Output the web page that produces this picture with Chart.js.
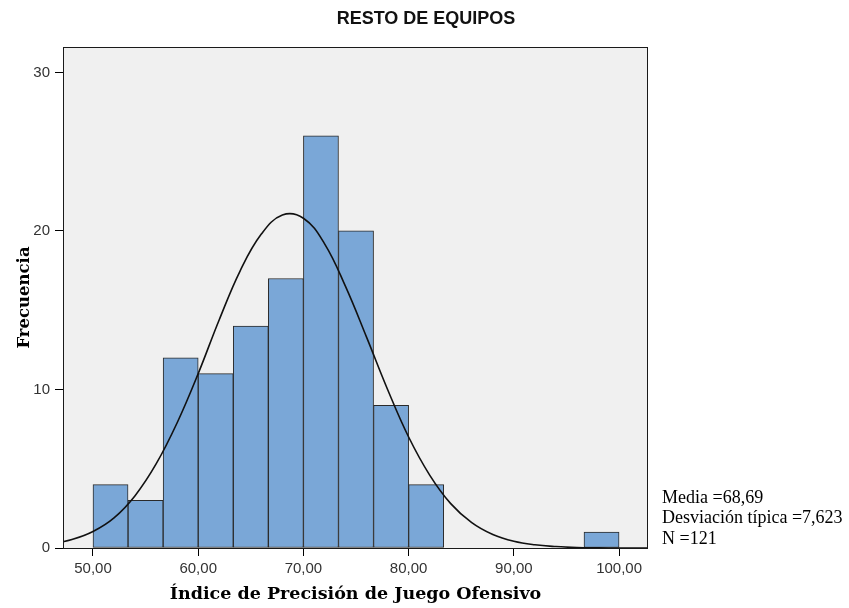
<!DOCTYPE html>
<html>
<head>
<meta charset="utf-8">
<script src="https://cdn.jsdelivr.net/npm/chart.js@4.4.1/dist/chart.umd.min.js"></script>
<style>
  html, body { margin: 0; padding: 0; background: #fff; }
  #wrap { width: 849px; height: 608px; }
</style>
</head>
<body>
<div id="wrap"><canvas id="hist"></canvas></div>
<script>
// histogram bins (left edge) and counts
const binWidth = 10 / 3;
const binStarts = [50, 53.333, 56.667, 60, 63.333, 66.667, 70, 73.333, 76.667, 80, 96.667];
const counts = [4, 3, 12, 11, 14, 17, 26, 20, 9, 4, 1];

// fitted normal curve
const curveX = [46, 48, 50, 52, 54, 56, 58, 60, 62, 64, 66, 68, 70, 72, 74, 76, 78, 80, 82, 84, 86, 88, 90, 92, 94, 96, 98, 100, 102, 104];
const curveY = [0.25, 0.53, 1.04, 1.9, 3.3, 5.3, 7.9, 11.0, 14.4, 17.5, 19.8, 21.0, 20.8, 19.2, 16.5, 13.3, 10.0, 7.0, 4.6, 2.8, 1.6, 0.85, 0.42, 0.2, 0.09, 0.03, 0.01, 0, 0, 0];

const xTicks = [50, 60, 70, 80, 90, 100];
const yTicks = [0, 10, 20, 30];

const statsLines = ["Media =68,69", "Desviación típica =7,623", "N =121"];

const plotBg = {
  id: "plotBg",
  beforeDraw(chart) {
    const { ctx, chartArea: a } = chart;
    ctx.save();
    ctx.fillStyle = "#f0f0f0";
    ctx.fillRect(a.left, a.top, a.right - a.left, a.bottom - a.top);
    ctx.restore();
  },
  afterDraw(chart) {
    const { ctx, chartArea: a } = chart;
    ctx.save();
    ctx.strokeStyle = "#1a1a1a";
    ctx.lineWidth = 1;
    ctx.strokeRect(a.left + 0.5, a.top + 0.5, a.right - a.left - 1, a.bottom - a.top);
    // stats text
    ctx.fillStyle = "#000";
    ctx.font = "18px 'Liberation Serif'";
    ctx.textBaseline = "middle";
    ctx.textAlign = "left";
    statsLines.forEach((t, i) => ctx.fillText(t, a.right + 14, 498 + i * 20.5));
    ctx.restore();
  }
};

new Chart(document.getElementById("hist"), {
  type: "bar",
  data: {
    datasets: [
      {
        type: "line",
        data: curveX.map((x, i) => ({ x: x, y: curveY[i] })),
        borderColor: "#111",
        borderWidth: 1.6,
        pointRadius: 0,
        tension: 0.4,
        fill: false,
        order: 0
      },
      {
        type: "bar",
        data: binStarts.map((s, i) => ({ x: s + binWidth / 2, y: counts[i] })),
        backgroundColor: "#7aa7d7",
        borderColor: "#2a2a2a",
        borderWidth: 1,
        borderSkipped: false,
        barPercentage: 1,
        categoryPercentage: 1,
        order: 1
      }
    ]
  },
  options: {
    responsive: true,
    maintainAspectRatio: false,
    animation: false,
    layout: { padding: { top: 47, right: 201, left: 0, bottom: 0 } },
    plugins: {
      legend: { display: false },
      tooltip: { enabled: false },
      title: { display: false }
    },
    scales: {
      x: {
        type: "linear",
        min: 47.15,
        max: 102.75,
        offset: false,
        afterBuildTicks: (s) => { s.ticks = xTicks.map(v => ({ value: v })); },
        afterFit: (s) => { s.height = 60; },
        grid: { offset: false, drawOnChartArea: false, drawTicks: true, tickLength: 8, color: "#000" },
        border: { display: false },
        ticks: {
          color: "#333",
          font: { family: "'Liberation Sans'", size: 15 },
          padding: 4,
          maxRotation: 0,
          callback: (v) => v.toFixed(2).replace(".", ",")
        },
        title: {
          display: true,
          text: "Índice de Precisión de Juego Ofensivo",
          color: "#000",
          font: { family: "'DejaVu Serif'", size: 17.5, weight: "bold" },
          padding: { top: 2, bottom: 3 }
        }
      },
      y: {
        min: 0,
        max: 31.6,
        afterBuildTicks: (s) => { s.ticks = yTicks.map(v => ({ value: v })); },
        afterFit: (s) => { s.width = 63; },
        grid: { drawOnChartArea: false, drawTicks: true, tickLength: 8, color: "#000" },
        border: { display: false },
        ticks: {
          color: "#333",
          font: { family: "'Liberation Sans'", size: 15 },
          padding: 5
        },
        title: {
          display: true,
          text: "Frecuencia",
          color: "#000",
          font: { family: "'DejaVu Serif'", size: 16.5, weight: "bold" },
          padding: { top: 15, bottom: 0 }
        }
      }
    }
  },
  plugins: [plotBg, {
    id: "mainTitle",
    afterDraw(chart) {
      const { ctx } = chart;
      ctx.save();
      ctx.fillStyle = "#111";
      ctx.font = "bold 18px 'Liberation Sans'";
      ctx.textAlign = "center";
      ctx.textBaseline = "middle";
      ctx.fillText("RESTO DE EQUIPOS", 426, 19);
      ctx.restore();
    }
  }]
});
</script>
</body>
</html>
